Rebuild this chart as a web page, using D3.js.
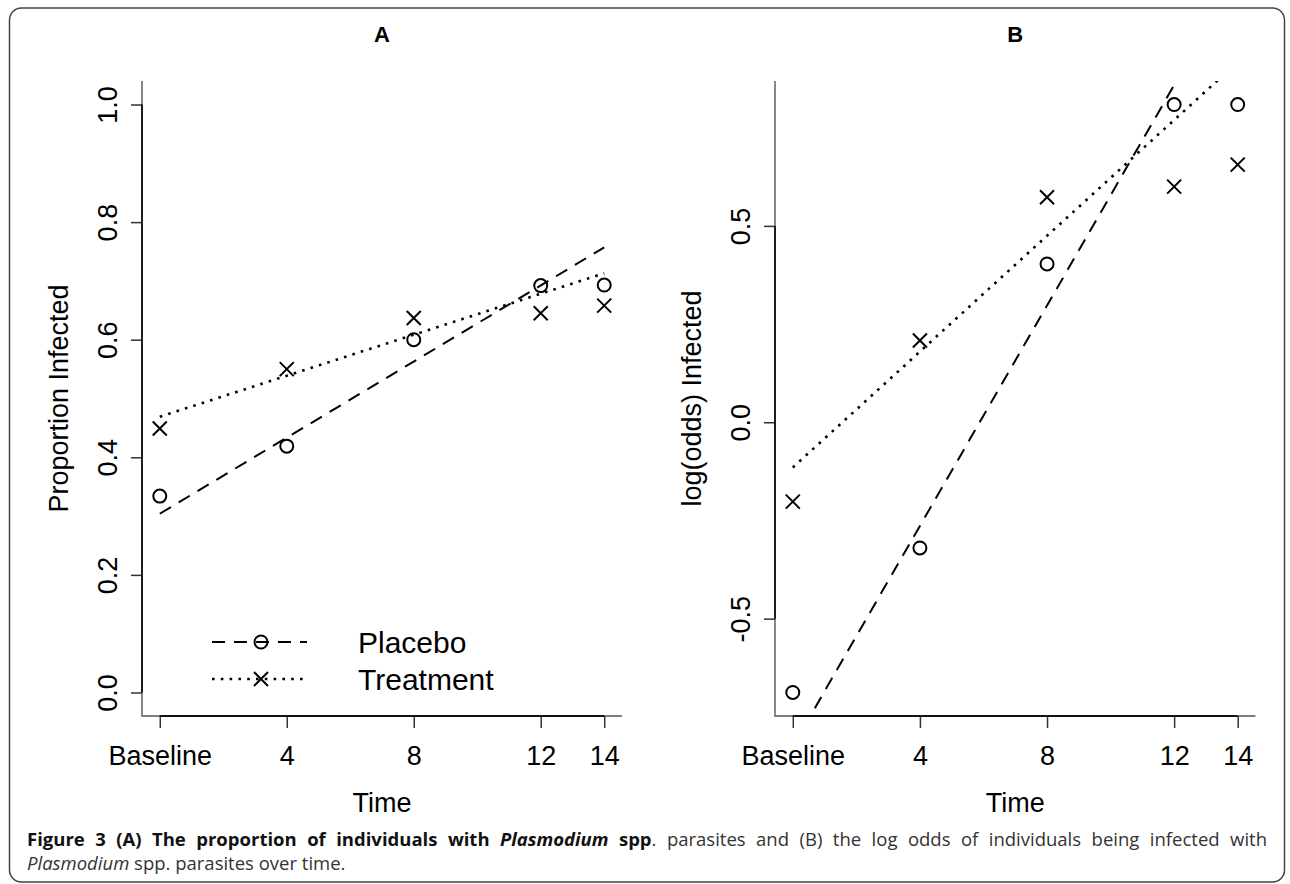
<!DOCTYPE html>
<html>
<head>
<meta charset="utf-8">
<script src="https://cdn.jsdelivr.net/npm/d3@7"></script>
<style>
body { margin: 0; background: #fff; }
#wrap { position: relative; width: 1290px; height: 884px; overflow: hidden; }
svg { position: absolute; left: 0; top: 0; }
svg text { font-family: "Liberation Sans", Arial, Helvetica, sans-serif; fill: #000; }
.cap { position: absolute; left: 27px; width: 1240px; font-family: "Open Sans", "Noto Sans", sans-serif;
       font-size: 18.5px; line-height: 24px; color: #333; white-space: nowrap; }
.cap b { color: #111; }
#cap1 { top: 827px; text-align: justify; text-align-last: justify; }
#cap2 { top: 851px; }
</style>
</head>
<body>
<div id="wrap">
  <svg id="chart" width="1290" height="884"></svg>
  <div class="cap" id="cap1"><b>Figure 3 (A) The proportion of individuals with <i>Plasmodium</i> spp</b>. parasites and (B) the log odds of individuals being infected with</div>
  <div class="cap" id="cap2"><i>Plasmodium</i> spp. parasites over time.</div>
</div>
<script>
// values
const times = [0, 4, 8, 12, 14];
const timeLabels = ["Baseline", "4", "8", "12", "14"];

const placeboProp = [0.334, 0.419, 0.600, 0.692, 0.693];
const treatmentProp = [0.449, 0.550, 0.637, 0.645, 0.658];
const placeboLogOdds = [-0.688, -0.320, 0.403, 0.809, 0.809];
const treatmentLogOdds = [-0.202, 0.208, 0.573, 0.600, 0.656];

// fitted lines, value at start and end of follow-up
const fitTimes = [0, 14];
const placeboFitProp = [0.304, 0.757];
const treatmentFitProp = [0.469, 0.713];
const placeboFitLogOdds = [-0.825, 1.139];
const treatmentFitLogOdds = [-0.115, 0.917];

const propTicks = [0, 0.2, 0.4, 0.6, 0.8, 1.0];
const logOddsTicks = [-0.5, 0, 0.5];

const svg = d3.select("#chart");

svg.append("rect")
    .attr("x", 9.5).attr("y", 8).attr("width", 1275).attr("height", 874)
    .attr("rx", 12).attr("fill", "none").attr("stroke", "#444").attr("stroke-width", 1.5);

const plotTop = 81, plotBottom = 716;
const dashed = "13,9", dotted = "2.6,6.2";

// R style 4% padding of the axis range
function pad(ext) {
    const d = (ext[1] - ext[0]) * 0.04;
    return [ext[0] - d, ext[1] + d];
}

function cross(s) {
    return `M${-s},${-s}L${s},${s}M${-s},${s}L${s},${-s}`;
}

function panel(opt) {
    const x = d3.scaleLinear().domain(pad(d3.extent(times))).range(opt.xRange);
    const y = d3.scaleLinear().domain(opt.yDomain).range([plotBottom, plotTop]);
    const x0 = opt.xRange[0], x1 = opt.xRange[1];
    const g = svg.append("g");

    g.append("text")
        .attr("x", (x0 + x1) / 2).attr("y", 42)
        .attr("text-anchor", "middle")
        .style("font-size", "22px").style("font-weight", "bold")
        .text(opt.title);

    // L shaped box
    g.append("path")
        .attr("d", `M${x0},${plotTop}V${plotBottom}H${x1}`)
        .attr("fill", "none").attr("stroke", "#555").attr("stroke-width", 1.4);

    // y axis
    const ya = g.append("g")
        .attr("transform", `translate(${x0},0)`)
        .call(d3.axisLeft(y).tickValues(opt.yTicks).tickSize(11).tickSizeOuter(0)
            .tickFormat(d => d.toFixed(1)));
    ya.select(".domain").remove();
    ya.append("line")
        .attr("y1", y(opt.yTicks[0])).attr("y2", y(opt.yTicks[opt.yTicks.length - 1]))
        .attr("stroke", "#111").attr("stroke-width", 1.8);
    ya.selectAll(".tick line").attr("stroke", "#333").attr("stroke-width", 1.5);
    ya.selectAll(".tick text")
        .attr("x", null).attr("dy", null)
        .attr("transform", "translate(-34,0) rotate(-90)")
        .attr("text-anchor", "middle").attr("dominant-baseline", "central")
        .style("font-size", "27px").attr("fill", "#000");

    // x axis
    const xa = g.append("g")
        .attr("transform", `translate(0,${plotBottom})`)
        .call(d3.axisBottom(x).tickValues(times).tickSize(12).tickSizeOuter(0)
            .tickFormat((d, i) => timeLabels[i]));
    xa.select(".domain").remove();
    xa.append("line")
        .attr("x1", x(times[0])).attr("x2", x(times[times.length - 1]))
        .attr("stroke", "#111").attr("stroke-width", 1.8);
    xa.selectAll(".tick line").attr("stroke", "#333").attr("stroke-width", 1.5);
    xa.selectAll(".tick text")
        .attr("y", 49).attr("dy", null)
        .style("font-size", "27px").attr("fill", "#000");

    g.append("text")
        .attr("x", (x0 + x1) / 2).attr("y", 812)
        .attr("text-anchor", "middle").style("font-size", "27px")
        .text("Time");

    g.append("text")
        .attr("transform", `translate(${x0 - 83},${(plotTop + plotBottom) / 2}) rotate(-90)`)
        .attr("text-anchor", "middle").attr("dominant-baseline", "central")
        .style("font-size", "27px")
        .text(opt.yLabel);

    // fitted lines, clipped to the plot region
    const clipId = "clip" + opt.title;
    g.append("clipPath").attr("id", clipId)
        .append("rect").attr("x", x0).attr("y", plotTop)
        .attr("width", x1 - x0).attr("height", plotBottom - plotTop);
    const line = d3.line().x(d => x(d[0])).y(d => y(d[1]));
    const fits = [
        {vals: opt.placeboFit, dash: dashed, w: 2},
        {vals: opt.treatmentFit, dash: dotted, w: 2.6}
    ];
    g.append("g").attr("clip-path", `url(#${clipId})`)
        .selectAll("path")
        .data(fits)
        .join("path")
        .attr("d", f => line(fitTimes.map((t, i) => [t, f.vals[i]])))
        .attr("fill", "none").attr("stroke", "#000").attr("stroke-width", f => f.w)
        .attr("stroke-dasharray", f => f.dash);

    // points
    g.append("g").selectAll("circle")
        .data(times.map((t, i) => [t, opt.placebo[i]]))
        .join("circle")
        .attr("cx", d => x(d[0])).attr("cy", d => y(d[1])).attr("r", 6.5)
        .attr("fill", "none").attr("stroke", "#000").attr("stroke-width", 2);
    g.append("g").selectAll("path")
        .data(times.map((t, i) => [t, opt.treatment[i]]))
        .join("path")
        .attr("transform", d => `translate(${x(d[0])},${y(d[1])})`)
        .attr("d", cross(7))
        .attr("fill", "none").attr("stroke", "#000").attr("stroke-width", 2);

    return g;
}

const gA = panel({
    title: "A", xRange: [142, 622], yDomain: pad([0, 1]), yTicks: propTicks,
    yLabel: "Proportion Infected",
    placebo: placeboProp, treatment: treatmentProp,
    placeboFit: placeboFitProp, treatmentFit: treatmentFitProp
});

panel({
    title: "B", xRange: [775, 1255.5],
    yDomain: pad(d3.extent(placeboLogOdds.concat(treatmentLogOdds))), yTicks: logOddsTicks,
    yLabel: "log(odds) Infected",
    placebo: placeboLogOdds, treatment: treatmentLogOdds,
    placeboFit: placeboFitLogOdds, treatmentFit: treatmentFitLogOdds
});

// legend in panel A
const legendItems = [
    {label: "Placebo", dash: dashed, w: 2, sym: "circle", y: 642},
    {label: "Treatment", dash: dotted, w: 2.6, sym: "cross", y: 679}
];
const lg = gA.append("g").selectAll("g")
    .data(legendItems)
    .join("g")
    .attr("transform", d => `translate(212,${d.y})`);
lg.append("line")
    .attr("x1", 0).attr("x2", 95)
    .attr("stroke", "#000").attr("stroke-width", d => d.w)
    .attr("stroke-dasharray", d => d.dash);
lg.filter(d => d.sym === "circle").append("circle")
    .attr("cx", 49).attr("r", 6.5)
    .attr("fill", "none").attr("stroke", "#000").attr("stroke-width", 2);
lg.filter(d => d.sym === "cross").append("path")
    .attr("transform", "translate(49,0)")
    .attr("d", cross(7))
    .attr("fill", "none").attr("stroke", "#000").attr("stroke-width", 2);
lg.append("text")
    .attr("x", 146).attr("dominant-baseline", "central")
    .style("font-size", "30px")
    .text(d => d.label);
</script>
</body>
</html>
